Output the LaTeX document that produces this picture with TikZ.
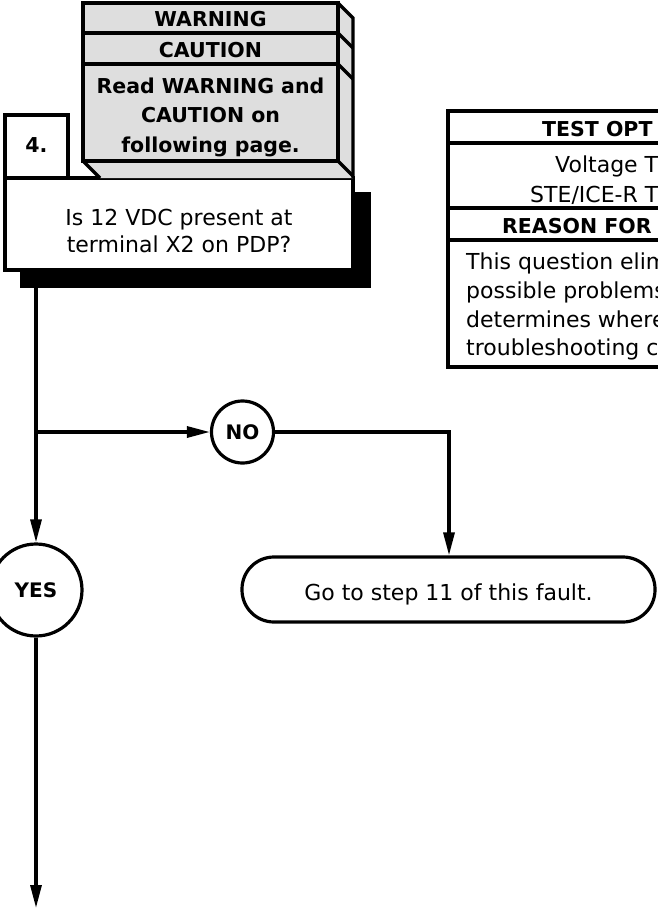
\documentclass[tikz,border=0pt]{standalone}
\usepackage{fontspec}
\setmainfont{DejaVu Sans}
\usetikzlibrary{arrows.meta}
\definecolor{warngray}{RGB}{222,222,222}
\begin{document}
\begin{tikzpicture}[x=1pt,y=-1pt, line join=miter,
  reg/.style={font=\fontsize{22}{27}\selectfont, inner sep=0pt},
  bld/.style={font=\fontsize{20.5}{27}\selectfont\bfseries, inner sep=0pt},
  box/.style={draw=black, line width=3.2pt, fill=white, inner sep=0pt},
  gbox/.style={box, fill=warngray},
  pbox/.style={draw=black, line width=3.6pt, fill=white, inner sep=0pt},
  circ/.style={circle, draw=black, line width=3.2pt, fill=white, inner sep=0pt, font=\fontsize{20}{24}\selectfont\bfseries},
  conn/.style={line width=3.2pt},
  arr/.style={conn, -{Triangle[length=23pt,width=11pt]}},
]
\useasboundingbox (0,0) rectangle (658,915);

% question box with shadow
\node[fill=black, inner sep=0pt, minimum width=351pt, minimum height=96pt] (shadow) at (195.5,240) {};
\node[box, minimum width=348pt, minimum height=92pt] (q) at (179,224) {};
\node[reg, anchor=base] (q1) at (179,225) {Is 12 VDC present at};
\node[reg, anchor=base] (q2) at (179,252) {terminal X2 on PDP?};

% step number
\node[box, minimum width=63pt, minimum height=63pt] (num) at (36.5,146.5) {};
\node[bld, anchor=base] (numt) at (36.5,153) {4.};

% warning block (3D)
\fill[warngray] (338,3) -- (353,18) -- (353,178) -- (100,178) -- (83,161) -- (338,161) -- cycle;
\draw[conn] (338,3) -- (353,18) -- (353,178);
\draw[conn] (338,33) -- (353,48);
\draw[conn] (338,64) -- (353,79);
\draw[conn] (338,161) -- (353,176);
\draw[conn] (83,161) -- (100,178);
\node[gbox, minimum width=255pt, minimum height=30pt] (w1) at (210.5,18) {};
\node[gbox, minimum width=255pt, minimum height=31pt] (w2) at (210.5,48.5) {};
\node[gbox, minimum width=255pt, minimum height=97pt] (w3) at (210.5,112.5) {};
\node[bld, anchor=base] (t1) at (210.5,27) {WARNING};
\node[bld, anchor=base] (t2) at (210.5,58) {CAUTION};
\node[bld, anchor=base] (t3) at (210.5,94) {Read WARNING and};
\node[bld, anchor=base] (t4) at (210.5,123) {CAUTION on};
\node[bld, anchor=base] (t5) at (210.5,152) {following page.};

% right info panel (cut by page edge)
\node[pbox, minimum width=252pt, minimum height=32pt] (r1) at (574,127) {};
\node[pbox, minimum width=252pt, minimum height=65pt] (r2) at (574,175.5) {};
\node[pbox, minimum width=252pt, minimum height=32pt] (r3) at (574,224) {};
\node[pbox, minimum width=252pt, minimum height=127pt] (r4) at (574,303.5) {};
\node[bld, anchor=base west] (h1) at (542,136) {TEST OPT};
\node[reg, anchor=base west] (p1) at (555,172) {Voltage T};
\node[reg, anchor=base west] (p2) at (530,202) {STE/ICE-R T};
\node[bld, anchor=base west] (h2) at (502,233) {REASON FOR};
\node[reg, anchor=base west] (b1) at (466,269) {This question elim};
\node[reg, anchor=base west] (b2) at (466,298) {possible problems};
\node[reg, anchor=base west] (b3) at (466,327) {determines where};
\node[reg, anchor=base west] (b4) at (466,355) {troubleshooting c};

% flow
\node[circ, minimum size=62pt] (no) at (242.5,432) {NO};
\node[circ, minimum size=92pt] (yes) at (36,590) {YES};
\node[box, rounded corners=32pt, minimum width=413pt, minimum height=65pt] (go) at (448.5,589.5) {};
\node[reg, anchor=base] (gotxt) at (448.5,600) {Go to step 11 of this fault.};
\coordinate (top) at (36,288);
\coordinate (j) at (36,432);
\coordinate (c) at (449,432);
\coordinate (end) at (36,908);

\draw[conn] (top) -- (j);
\draw[arr] (j) -- (yes.north);
\draw[arr] (j) -- (no.west);
\draw[arr] (no.east) -- (c) -- (go.north -| c);
\draw[arr] (yes.south) -- (end);
\end{tikzpicture}
\end{document}
